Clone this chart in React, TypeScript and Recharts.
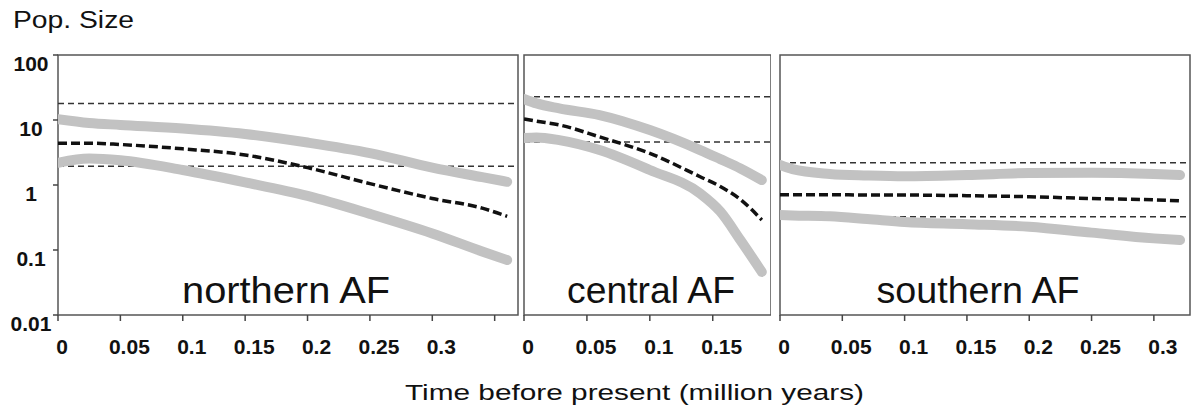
import React from 'react';
import { LineChart, Line, XAxis, YAxis, ReferenceLine, ReferenceArea } from 'recharts';

// shared log axis
const yTicks = [0.01, 0.1, 1, 10, 100];

// northern AF
const northTime = [0, 0.025, 0.05, 0.1, 0.15, 0.2, 0.25, 0.3, 0.34, 0.36];
const northUpper = [10.3, 9.0, 8.4, 7.4, 6.1, 4.5, 3.1, 1.85, 1.32, 1.12];
const northMedian = [4.4, 4.4, 4.2, 3.6, 2.9, 1.85, 1.05, 0.62, 0.44, 0.33];
const northLower = [2.2, 2.55, 2.4, 1.7, 1.1, 0.68, 0.36, 0.18, 0.095, 0.07];
const northRefs = [18, 1.95];
const northTicks = [0, 0.05, 0.1, 0.15, 0.2, 0.25, 0.3, 0.35];

// central AF
const centralTime = [0, 0.01, 0.028, 0.06, 0.1, 0.14, 0.156, 0.172, 0.189];
const centralUpper = [21, 18, 15.1, 11.9, 7.0, 3.45, 2.5, 1.8, 1.19];
const centralMedian = [10.4, 9.6, 8.4, 5.5, 3.07, 1.34, 0.95, 0.6, 0.29];
const centralLower = [5.3, 5.4, 4.9, 3.45, 1.7, 0.74, 0.39, 0.142, 0.046];
const centralRefs = [22.7, 4.6];
const centralTicks = [0, 0.05, 0.1, 0.15];

// southern AF
const southTime = [0, 0.01, 0.04, 0.07, 0.1, 0.15, 0.2, 0.25, 0.3, 0.321];
const southUpper = [2.03, 1.75, 1.48, 1.4, 1.36, 1.42, 1.53, 1.55, 1.48, 1.42];
const southMedian = [0.71, 0.71, 0.71, 0.7, 0.7, 0.685, 0.66, 0.62, 0.59, 0.57];
const southLower = [0.345, 0.34, 0.33, 0.3, 0.27, 0.25, 0.228, 0.185, 0.151, 0.142];
const southRefs = [2.2, 0.326];
const southTicks = [0, 0.05, 0.1, 0.15, 0.2, 0.25, 0.3];

const FONT = '"Liberation Sans", Arial, sans-serif';
const GRAY = '#c2c2c2';
const INK = '#111';

const XTick = (props: any) => {
    const { x, y, payload, hidden } = props;
    const v = payload.value;
    if (hidden && hidden.includes(v)) return <g />;
    return (
        <text x={x + (v === 0 ? 4 : 9)} y={y + 23} textAnchor="middle" dominantBaseline="central"
              fontFamily={FONT} fontWeight="bold" fontSize={21} fill={INK}>
            {String(v)}
        </text>
    );
};

const YTick = (props: any) => {
    const { x, y, payload } = props;
    return (
        <text x={x - 20} y={y + 8} textAnchor="middle" dominantBaseline="central"
              fontFamily={FONT} fontWeight="bold" fontSize={21} fill={INK}>
            {String(payload.value)}
        </text>
    );
};

interface PanelProps {
    time: number[];
    upper: number[];
    median: number[];
    lower: number[];
    refs: number[];
    ticks: number[];
    hiddenTicks?: number[];
    xMax: number;
    left: number;
    width: number;
    leftMargin: number;
    rightMargin: number;
    showY?: boolean;
}

function Panel({ time, upper, median, lower, refs, ticks, hiddenTicks = [], xMax, left, width, leftMargin, rightMargin, showY }: PanelProps) {
    const data = time.map((t, i) => ({ t, upper: upper[i], median: median[i], lower: lower[i] }));
    return (
        <div style={{ position: 'absolute', left, top: 0 }}>
            <LineChart width={width} height={360} data={data}
                       margin={{ top: 55, right: rightMargin, left: leftMargin, bottom: 0 }}>
                <XAxis type="number" dataKey="t" domain={[0, xMax]} ticks={ticks} allowDataOverflow
                       interval={0} axisLine={false} tickSize={6} height={45}
                       tickLine={{ stroke: '#444', strokeWidth: 1.5 }}
                       tick={<XTick hidden={hiddenTicks} />} />
                <YAxis type="number" scale="log" domain={[0.01, 100]} ticks={yTicks} allowDataOverflow
                       hide={!showY} width={58} axisLine={false} tickSize={5}
                       tickLine={{ stroke: '#444', strokeWidth: 1.5 }} tick={<YTick />} />
                <ReferenceArea x1={0} x2={xMax} y1={0.01} y2={100} fill="none" fillOpacity={0}
                               stroke="#555" strokeWidth={1.5} />
                {refs.map((r) => (
                    <ReferenceLine key={r} y={r} stroke="#333" strokeWidth={1.5} strokeDasharray="6 4" />
                ))}
                <Line type="monotone" dataKey="upper" stroke={GRAY} strokeWidth={10} strokeLinecap="round"
                      dot={false} isAnimationActive={false} />
                <Line type="monotone" dataKey="lower" stroke={GRAY} strokeWidth={10} strokeLinecap="round"
                      dot={false} isAnimationActive={false} />
                <Line type="monotone" dataKey="median" stroke={INK} strokeWidth={3.5} strokeDasharray="9 4"
                      dot={false} isAnimationActive={false} />
            </LineChart>
        </div>
    );
}

export default function App() {
    const label = { fontFamily: FONT, fill: INK } as const;
    return (
        <div style={{ position: 'absolute', left: 0, top: 0, width: 1191, height: 414, background: '#fff' }}>
            <Panel time={northTime} upper={northUpper} median={northMedian} lower={northLower} refs={northRefs}
                   ticks={northTicks} hiddenTicks={[0.35]} xMax={0.3687} left={0} width={520}
                   leftMargin={0} rightMargin={2} showY />
            <Panel time={centralTime} upper={centralUpper} median={centralMedian} lower={centralLower}
                   refs={centralRefs} ticks={centralTicks} xMax={0.1963} left={514} width={257}
                   leftMargin={10} rightMargin={0} />
            <Panel time={southTime} upper={southUpper} median={southMedian} lower={southLower} refs={southRefs}
                   ticks={southTicks} xMax={0.329} left={770} width={421} leftMargin={10} rightMargin={1} />
            <svg width={1191} height={414} style={{ position: 'absolute', left: 0, top: 0, pointerEvents: 'none' }}>
                <text x={13} y={28} fontSize={23} textLength={121} lengthAdjust="spacingAndGlyphs" {...label}>Pop. Size</text>
                <text x={286} y={303} fontSize={36} textAnchor="middle" textLength={208} lengthAdjust="spacingAndGlyphs" {...label}>northern AF</text>
                <text x={651} y={303} fontSize={36} textAnchor="middle" textLength={168} lengthAdjust="spacingAndGlyphs" {...label}>central AF</text>
                <text x={978} y={303} fontSize={36} textAnchor="middle" textLength={203} lengthAdjust="spacingAndGlyphs" {...label}>southern AF</text>
                <text x={405} y={400} fontSize={22} textLength={459} lengthAdjust="spacingAndGlyphs" {...label}>Time before present (million years)</text>
            </svg>
        </div>
    );
}
